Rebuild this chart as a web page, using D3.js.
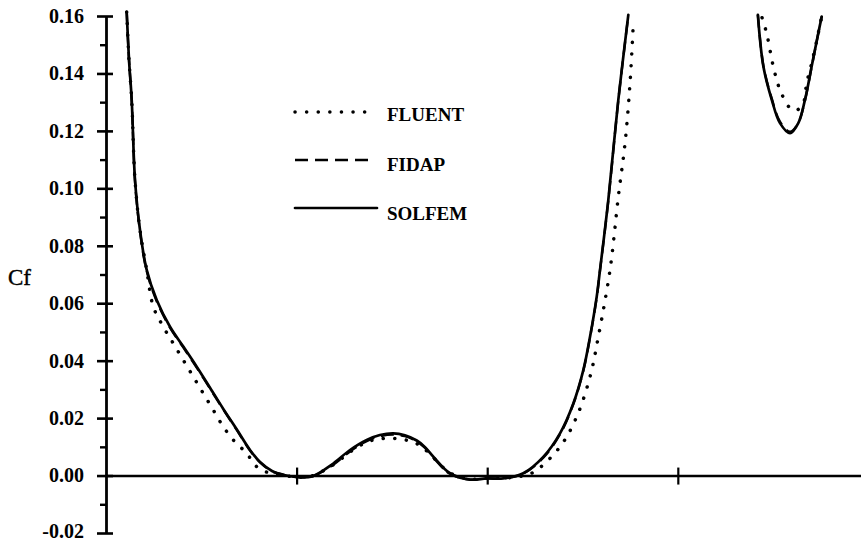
<!DOCTYPE html>
<html>
<head>
<meta charset="utf-8">
<script src="https://cdn.jsdelivr.net/npm/d3@7"></script>
<style>
  html, body { margin: 0; padding: 0; background: #fff; }
  svg { display: block; }
</style>
</head>
<body>
<svg id="chart" width="861" height="542"></svg>
<script>
// ---------- data ----------
const yTickValues = [-0.02, 0.00, 0.02, 0.04, 0.06, 0.08, 0.10, 0.12, 0.14, 0.16];
const yMinorTickValues = [-0.01, 0.01, 0.03, 0.05, 0.07, 0.09, 0.11, 0.13, 0.15];
const xTickValues = [1, 2, 3];
const yLabel = "Cf";
const seriesNames = ["FLUENT", "FIDAP", "SOLFEM"];

// SOLFEM (solid); null separates segments
const solfemX = [0.1086, 0.1207, 0.1348, 0.1522, 0.1784, 0.2135, 0.2660, 0.3358, 0.4056, 0.4759, 0.5457, 0.6154, 0.6857, 0.7555, 0.8080, 0.8709, 0.9339, 0.9969, 1.0808, 1.1926, 1.2802, 1.3678, 1.4371, 1.5073, 1.5682, 1.6301, 1.6737, 1.7172, 1.8048, 1.9098, 1.9974, 2.0845, 2.1894, 2.2943, 2.3820, 2.4518, 2.5042, 2.5394, 2.5745, 2.5918, 2.6354, 2.6878, 2.7403,
  null,
  3.420, 3.449, 3.493, 3.536, 3.589, 3.632, 3.667, 3.702, 3.737, 3.755];
const solfemY = [0.1614, 0.1448, 0.1308, 0.1029, 0.0855, 0.0716, 0.0611, 0.0518, 0.0449, 0.0379, 0.0306, 0.0232, 0.0161, 0.0089, 0.0047, 0.0016, 0.0002, -0.0005, -0.0003, 0.0042, 0.0089, 0.0124, 0.0141, 0.0147, 0.0140, 0.0122, 0.0099, 0.0066, 0.0008, -0.0014, -0.0010, -0.0010, 0.0008, 0.0065, 0.0147, 0.0251, 0.0367, 0.0483, 0.0623, 0.0716, 0.0960, 0.1308, 0.1604,
  null,
  0.1604, 0.1424, 0.1308, 0.1227, 0.1192, 0.1227, 0.1308, 0.1424, 0.1540, 0.1598];

// FIDAP (dashed) — nearly coincident with SOLFEM
const fidapX = [0.1086, 0.1207, 0.1348, 0.1522, 0.1784, 0.2135, 0.2660, 0.3358, 0.4056, 0.4759, 0.5457, 0.6154, 0.6857, 0.7555, 0.8080, 0.8709, 0.9339, 0.9969, 1.0808, 1.1926, 1.2802, 1.3678, 1.4371, 1.5073, 1.5682, 1.6301, 1.6737, 1.7172, 1.8048, 1.9098, 1.9974, 2.0845, 2.1894, 2.2943, 2.3820, 2.4518, 2.5042, 2.5394, 2.5745, 2.5918, 2.6354, 2.6878, 2.7403,
  null,
  3.420, 3.449, 3.493, 3.536, 3.589, 3.632, 3.667, 3.702, 3.737, 3.755];
const fidapY = [0.1614, 0.1448, 0.1305, 0.1025, 0.0850, 0.0712, 0.0607, 0.0515, 0.0446, 0.0376, 0.0303, 0.0230, 0.0159, 0.0087, 0.0046, 0.0015, 0.0002, -0.0005, -0.0003, 0.0038, 0.0084, 0.0120, 0.0137, 0.0143, 0.0137, 0.0119, 0.0096, 0.0062, 0.0006, -0.0014, -0.0010, -0.0010, 0.0007, 0.0062, 0.0144, 0.0249, 0.0365, 0.0481, 0.0620, 0.0714, 0.0958, 0.1306, 0.1602,
  null,
  0.1604, 0.1426, 0.1312, 0.1232, 0.1197, 0.1228, 0.1306, 0.1422, 0.1540, 0.1598];

// FLUENT (dotted)
const fluentX = [0.1086, 0.1207, 0.1348, 0.1522, 0.1784, 0.2135, 0.2482, 0.3006, 0.3531, 0.4056, 0.4580, 0.5105, 0.5630, 0.6154, 0.6679, 0.7382, 0.7907, 0.8604, 0.9654, 1.0703, 1.1910, 1.2802, 1.3694, 1.4300, 1.4900, 1.5560, 1.6212, 1.6700, 1.7156, 1.8048, 1.9098, 1.9990, 2.0829, 2.2072, 2.2597, 2.3820, 2.4696, 2.5394, 2.5829, 2.6443, 2.6878, 2.7230, 2.7492, 2.7665,
  null,
  3.442, 3.466, 3.501, 3.536, 3.589, 3.620, 3.658, 3.676, 3.704, 3.737, 3.755];
const fluentY = [0.1614, 0.1448, 0.1308, 0.1029, 0.0855, 0.0716, 0.0588, 0.0518, 0.0460, 0.0402, 0.0344, 0.0286, 0.0228, 0.0170, 0.0124, 0.0077, 0.0031, 0.0008, -0.0003, -0.0003, 0.0037, 0.0082, 0.0117, 0.0127, 0.0130, 0.0126, 0.0114, 0.0093, 0.0064, 0.0009, -0.0012, -0.0009, -0.0009, 0.0002, 0.0019, 0.0100, 0.0205, 0.0344, 0.0483, 0.0716, 0.0971, 0.1157, 0.1366, 0.1575,
  null,
  0.1594, 0.1540, 0.1424, 0.1343, 0.1279, 0.1271, 0.1296, 0.1366, 0.1440, 0.1540, 0.1598];

// ---------- chart ----------
const FONT = "'Liberation Serif', 'DejaVu Serif', 'Times New Roman', Times, serif";
const svg = d3.select("#chart").attr("font-family", FONT);

const x = d3.scaleLinear().domain([0, 3.96]).range([106, 860.8]);
const y = d3.scaleLinear().domain([-0.02, 0.16]).range([533, 16]);

const zip = (xs, ys) => xs.map((v, i) => [v, ys[i]]);

const line = d3.line()
  .defined(d => d[0] !== null && d[1] !== null)
  .x(d => x(d[0]))
  .y(d => y(d[1]))
  .curve(d3.curveCatmullRom.alpha(0.5));

const styles = {
  FLUENT: { dash: "0.1,11.5", width: 3.5, cap: "round" },
  FIDAP:  { dash: "13,7", width: 2.4, cap: "butt" },
  SOLFEM: { dash: null, width: 2.7, cap: "round" }
};

const seriesData = {
  FLUENT: zip(fluentX, fluentY),
  FIDAP: zip(fidapX, fidapY),
  SOLFEM: zip(solfemX, solfemY)
};

// Y axis (major)
const yAxis = d3.axisLeft(y)
  .tickValues(yTickValues)
  .tickFormat(d => d.toFixed(2))
  .tickSizeInner(9)
  .tickSizeOuter(0)
  .tickPadding(13);

const gy = svg.append("g")
  .attr("transform", `translate(${x(0)},0)`)
  .call(yAxis)
  .attr("font-family", FONT);
gy.select(".domain").attr("stroke", "#000").attr("stroke-width", 2.8);
gy.selectAll(".tick line").attr("x1", 7).attr("x2", -9).attr("stroke", "#000").attr("stroke-width", 2.6);
gy.selectAll(".tick text")
  .attr("font-size", 20)
  .attr("font-weight", "bold")
  .attr("font-family", FONT)
  .attr("fill", "#000")
  .attr("dy", d => d < 0 ? "0.22em" : "0.32em");

// Y axis minor ticks
const yMinor = d3.axisLeft(y)
  .tickValues(yMinorTickValues)
  .tickFormat("")
  .tickSizeInner(6)
  .tickSizeOuter(0);
const gym = svg.append("g")
  .attr("transform", `translate(${x(0)},0)`)
  .call(yMinor);
gym.select(".domain").remove();
gym.selectAll(".tick line").attr("stroke", "#000").attr("stroke-width", 2.4);

// X axis at y = 0
const xAxis = d3.axisBottom(x)
  .tickValues(xTickValues)
  .tickFormat("")
  .tickSizeInner(8)
  .tickSizeOuter(0);
const gx = svg.append("g")
  .attr("transform", `translate(0,${y(0)})`)
  .call(xAxis);
gx.select(".domain").attr("stroke", "#000").attr("stroke-width", 2.6);
gx.selectAll(".tick line").attr("y1", -8).attr("y2", 9).attr("stroke", "#000").attr("stroke-width", 2.2);

// Y label
svg.append("text")
  .attr("x", 8)
  .attr("y", 285)
  .attr("font-size", 23)
  .attr("font-family", FONT)
  .attr("fill", "#000")
  .attr("stroke", "#000")
  .attr("stroke-width", 0.4)
  .text(yLabel);

// Curves
seriesNames.forEach(name => {
  const s = styles[name];
  svg.append("path")
    .datum(seriesData[name])
    .attr("d", line)
    .attr("fill", "none")
    .attr("stroke", "#000")
    .attr("stroke-width", s.width)
    .attr("stroke-linecap", s.cap)
    .attr("stroke-linejoin", "round")
    .attr("stroke-dasharray", s.dash);
});

// Legend
const legendLineY = [112, 160, 208];
const legendLineEnd = [370, 370, 377];
const legend = svg.append("g");
seriesNames.forEach((name, i) => {
  const s = styles[name];
  legend.append("line")
    .attr("x1", 295).attr("x2", legendLineEnd[i])
    .attr("y1", legendLineY[i]).attr("y2", legendLineY[i])
    .attr("stroke", "#000")
    .attr("stroke-width", s.width)
    .attr("stroke-linecap", s.cap)
    .attr("stroke-dasharray", s.dash);
  legend.append("text")
    .attr("x", 387)
    .attr("y", legendLineY[i] + 9 + i * 1.5)
    .attr("font-size", 19)
    .attr("font-weight", "bold")
    .attr("font-family", FONT)
    .attr("fill", "#000")
    .text(name);
});
</script>
</body>
</html>
